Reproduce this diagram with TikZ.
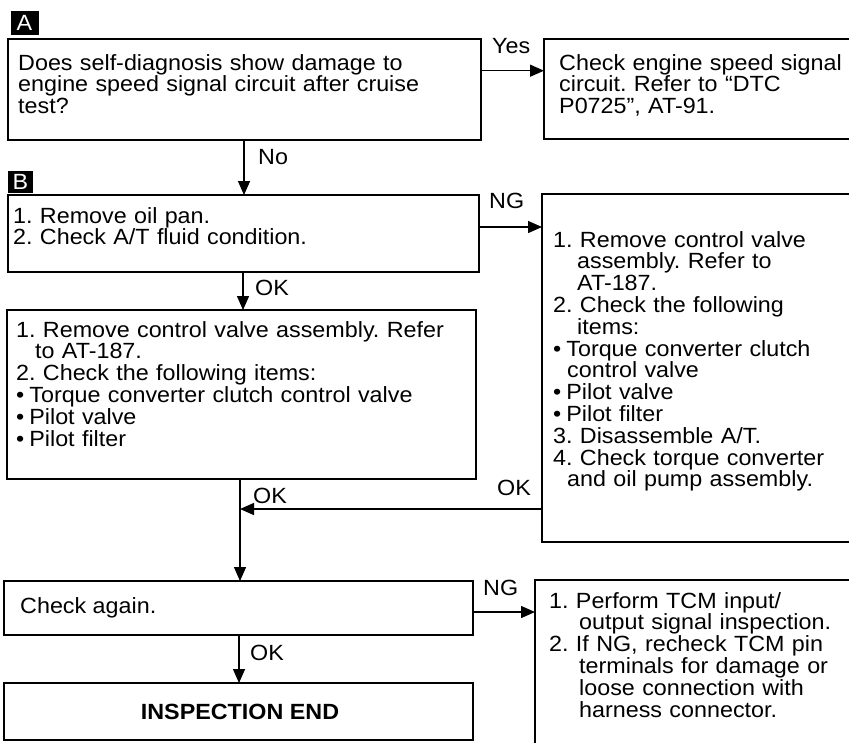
\documentclass[tikz,border=0pt]{standalone}
\usepackage{fontspec}
\setmainfont{Liberation Sans}[FakeStretch=1.06]
\usetikzlibrary{arrows.meta}
\frenchspacing
\begin{document}
\begin{tikzpicture}[x=1pt,y=-1pt,
  box/.style={draw=black, line width=1.4pt, anchor=north west, inner sep=0pt, outer sep=0pt},
  txt/.style={font=\fontsize{22}{21.8}\selectfont\frenchspacing, inner sep=0pt, align=left, text width=470pt, anchor=base west},
  lbl/.style={font=\fontsize{22}{22}\selectfont, inner sep=0pt, anchor=base west},
  tag/.style={fill=black, text=white, inner sep=0pt, font=\fontsize{22}{22}\selectfont},
  arr/.style={line width=1.4pt, -{Triangle[length=14pt,width=12pt]}},
  ln/.style={line width=1.4pt}]
\useasboundingbox (0,0) rectangle (849,742);
\clip (0,0) rectangle (849,742);
% tags
\node[tag, minimum width=28pt, minimum height=24pt] (tagA) at (24.5,22.5) {A};
\node[tag, minimum width=25pt, minimum height=22pt] (tagB) at (20.5,182) {B};
% boxes
\node[box, minimum width=473pt, minimum height=101pt] (boxA) at (8,39) {};
\node[box, minimum width=312pt, minimum height=100pt] (r1) at (544,39) {};
\node[box, minimum width=471pt, minimum height=77pt] (b1) at (8,195) {};
\node[box, minimum width=314pt, minimum height=348pt] (big) at (542,194) {};
\node[box, minimum width=469pt, minimum height=169pt] (b2) at (7,310) {};
\node[box, minimum width=469pt, minimum height=54pt] (chk) at (4,581) {};
\node[box, minimum width=322pt, minimum height=172pt] (r3) at (535,580) {};
\node[box, minimum width=469pt, minimum height=57pt] (endb) at (4,683) {};
% texts
\node[txt] (tA) at (18,70) {Does self-diagnosis show damage to\\engine speed signal circuit after cruise\\test?};
\node[txt, text width=300pt] (tr1) at (559,70) {Check engine speed signal\\circuit. Refer to “DTC\\P0725”, AT-91.};
\node[txt] (tb1) at (13,223) {1. Remove oil pan.\\2. Check A/T fluid condition.};
\node[txt, text width=300pt] (tbig) at (553,247) {1. Remove control valve\\\hspace*{24pt}assembly. Refer to\\\hspace*{24pt}AT-187.\\2. Check the following\\\hspace*{24pt}items:\\•\hspace{5pt}Torque converter clutch\\\hspace*{14pt}control valve\\•\hspace{5pt}Pilot valve\\•\hspace{5pt}Pilot filter\\3. Disassemble A/T.\\4. Check torque converter\\\hspace*{14pt}and oil pump assembly.};
\node[txt] (tb2) at (16,337) {1. Remove control valve assembly. Refer\\\hspace*{19pt}to AT-187.\\2. Check the following items:\\•\hspace{5pt}Torque converter clutch control valve\\•\hspace{5pt}Pilot valve\\•\hspace{5pt}Pilot filter};
\node[lbl] (tchk) at (20,613) {Check again.};
\node[txt, text width=310pt] (tr3) at (549,608) {1. Perform TCM input/\\\hspace*{30pt}output signal inspection.\\2. If NG, recheck TCM pin\\\hspace*{30pt}terminals for damage or\\\hspace*{30pt}loose connection with\\\hspace*{30pt}harness connector.};
\node[lbl, anchor=base, font=\fontsize{22}{22}\selectfont\bfseries] (tend) at (240,719) {INSPECTION END};
% labels
\node[lbl] (lyes) at (492,53) {Yes};
\node[lbl] (lno) at (258,164) {No};
\node[lbl] (lng1) at (489,208) {NG};
\node[lbl] (lok1) at (255,295) {OK};
\node[lbl] (lok2r) at (497,495) {OK};
\node[lbl] (lok2l) at (253,503) {OK};
\node[lbl] (lng2) at (483,595) {NG};
\node[lbl] (lok3) at (250,660) {OK};
% connector guide coordinates
\coordinate (yYes) at (0,70.7);
\coordinate (xNo) at (244,0);
\coordinate (yNG1) at (0,227);
\coordinate (xOK1) at (243,0);
\coordinate (j) at (240,509);
\coordinate (yNG2) at (0,612);
\coordinate (xOK3) at (239,0);
% connectors
\draw[arr] (boxA.east |- yYes) -- (r1.west |- yYes);
\draw[arr] (boxA.south -| xNo) -- (b1.north -| xNo);
\draw[arr] (b1.east |- yNG1) -- (big.west |- yNG1);
\draw[arr] (b1.south -| xOK1) -- (b2.north -| xOK1);
\draw[arr] (big.west |- j) -- (j);
\draw[arr] (b2.south -| j) -- (chk.north -| j);
\draw[arr] (chk.east |- yNG2) -- (r3.west |- yNG2);
\draw[arr] (chk.south -| xOK3) -- (endb.north -| xOK3);
\end{tikzpicture}
\end{document}
